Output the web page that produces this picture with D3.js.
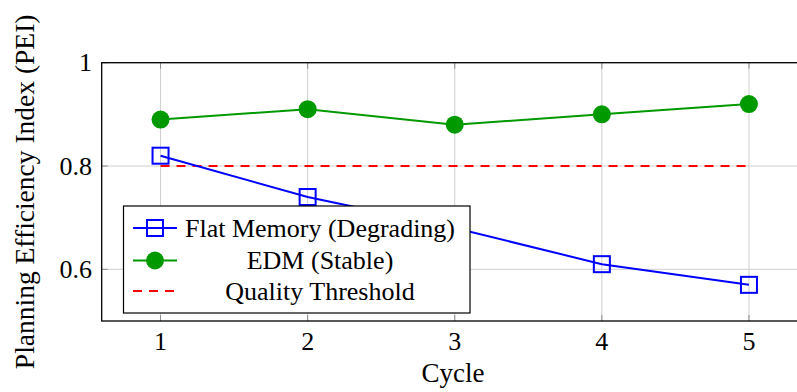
<!DOCTYPE html>
<html lang="en">
<head>
<meta charset="utf-8">
<script src="https://d3js.org/d3.v7.min.js"></script>
<style>
  body { margin: 0; background: #fff; overflow: hidden; }
  svg { display: block; }
  text { font-family: "Liberation Serif", "Times New Roman", serif; fill: #000; }
</style>
</head>
<body>
<div id="container"></div>
<script>
var cycles = [1, 2, 3, 4, 5];
var flatMemory = [0.82, 0.74, 0.68, 0.61, 0.57];
var edmStable = [0.89, 0.91, 0.88, 0.90, 0.92];
var threshold = 0.8;
var xTicks = [1, 2, 3, 4, 5];
var yTicks = [0.6, 0.8, 1];
var seriesNames = ["Flat Memory (Degrading)", "EDM (Stable)", "Quality Threshold"];

var W = 797, H = 392;
var fontSize = 26;

var svg = d3.select("#container").append("svg")
    .attr("width", W).attr("height", H);

// pgfplots-like axis: x enlarged by 0.1 on each side
var x = d3.scaleLinear().domain([0.6, 5.4]).range([101.7, 807.8]);
var y = d3.scaleLinear().domain([0.5, 1]).range([321, 62.7]);

var x0 = x.range()[0], x1 = x.range()[1], y0 = y.range()[0], y1 = y.range()[1];

// grid
svg.append("g").selectAll("line").data(xTicks).enter().append("line")
    .attr("x1", function(d) { return x(d); }).attr("x2", function(d) { return x(d); })
    .attr("y1", y0).attr("y2", y1)
    .attr("stroke", "#cfcfcf").attr("stroke-width", 1);
svg.append("g").selectAll("line").data(yTicks).enter().append("line")
    .attr("x1", x0).attr("x2", x1)
    .attr("y1", function(d) { return y(d); }).attr("y2", function(d) { return y(d); })
    .attr("stroke", "#cfcfcf").attr("stroke-width", 1);

// inner tick marks
var tk = 6;
var tg = svg.append("g").attr("stroke", "#8c8c8c").attr("stroke-width", 1);
xTicks.forEach(function(d) {
    tg.append("line").attr("x1", x(d)).attr("x2", x(d)).attr("y1", y0).attr("y2", y0 - tk);
    tg.append("line").attr("x1", x(d)).attr("x2", x(d)).attr("y1", y1).attr("y2", y1 + tk);
});
yTicks.forEach(function(d) {
    tg.append("line").attr("x1", x0).attr("x2", x0 + tk).attr("y1", y(d)).attr("y2", y(d));
    tg.append("line").attr("x1", x1).attr("x2", x1 - tk).attr("y1", y(d)).attr("y2", y(d));
});

// tick labels
svg.append("g").selectAll("text").data(xTicks).enter().append("text")
    .attr("x", function(d) { return x(d); }).attr("y", 350)
    .attr("text-anchor", "middle").attr("font-size", fontSize)
    .text(function(d) { return d; });
svg.append("g").selectAll("text").data(yTicks).enter().append("text")
    .attr("x", 92).attr("y", function(d) { return y(d); }).attr("dy", "0.33em")
    .attr("text-anchor", "end").attr("font-size", fontSize)
    .text(function(d) { return d === 1 ? "1" : d.toFixed(1); });

// axis labels
svg.append("text").attr("x", 453).attr("y", 382)
    .attr("text-anchor", "middle").attr("font-size", 27).text("Cycle");
svg.append("text")
    .attr("transform", "translate(34," + ((y0 + y1) / 2) + ") rotate(-90)")
    .attr("text-anchor", "middle").attr("font-size", 27.5)
    .text("Planning Efficiency Index (PEI)");

var line = d3.line().x(function(d) { return x(d[0]); }).y(function(d) { return y(d[1]); });

// threshold
svg.append("path")
    .datum([[cycles[0], threshold], [cycles[cycles.length - 1], threshold]])
    .attr("d", line).attr("fill", "none")
    .attr("stroke", "#ff0000").attr("stroke-width", 2).attr("stroke-dasharray", "9,7");

// flat memory
var flatData = cycles.map(function(c, i) { return [c, flatMemory[i]]; });
svg.append("path").datum(flatData).attr("d", line)
    .attr("fill", "none").attr("stroke", "#0000ff").attr("stroke-width", 2);
svg.append("g").selectAll("rect").data(flatData).enter().append("rect")
    .attr("x", function(d) { return x(d[0]) - 8; }).attr("y", function(d) { return y(d[1]) - 8; })
    .attr("width", 16).attr("height", 16)
    .attr("fill", "none").attr("stroke", "#0000ff").attr("stroke-width", 2);

// EDM
var edmData = cycles.map(function(c, i) { return [c, edmStable[i]]; });
svg.append("path").datum(edmData).attr("d", line)
    .attr("fill", "none").attr("stroke", "#009900").attr("stroke-width", 2);
svg.append("g").selectAll("circle").data(edmData).enter().append("circle")
    .attr("cx", function(d) { return x(d[0]); }).attr("cy", function(d) { return y(d[1]); })
    .attr("r", 9).attr("fill", "#009900");

// frame (right side falls outside the window)
svg.append("rect").attr("x", x0).attr("y", y1)
    .attr("width", x1 - x0).attr("height", y0 - y1)
    .attr("fill", "none").attr("stroke", "#000").attr("stroke-width", 1.3);

// legend
var lg = svg.append("g");
lg.append("rect").attr("x", 123.5).attr("y", 206).attr("width", 346.5).attr("height", 107)
    .attr("fill", "#fff").attr("stroke", "#000").attr("stroke-width", 1.2);
var rows = [228, 260.5, 291];
var lx0 = 133, lx1 = 177, lxm = 155, ltx = 320;
// row 1
lg.append("line").attr("x1", lx0).attr("x2", lx1).attr("y1", rows[0]).attr("y2", rows[0])
    .attr("stroke", "#0000ff").attr("stroke-width", 2);
lg.append("rect").attr("x", lxm - 8).attr("y", rows[0] - 8).attr("width", 16).attr("height", 16)
    .attr("fill", "none").attr("stroke", "#0000ff").attr("stroke-width", 2);
// row 2
lg.append("line").attr("x1", lx0).attr("x2", lx1).attr("y1", rows[1]).attr("y2", rows[1])
    .attr("stroke", "#009900").attr("stroke-width", 2);
lg.append("circle").attr("cx", lxm).attr("cy", rows[1]).attr("r", 9).attr("fill", "#009900");
// row 3
lg.append("line").attr("x1", lx0).attr("x2", lx1).attr("y1", rows[2]).attr("y2", rows[2])
    .attr("stroke", "#ff0000").attr("stroke-width", 2).attr("stroke-dasharray", "9,7");
seriesNames.forEach(function(n, i) {
    lg.append("text").attr("x", ltx).attr("y", rows[i]).attr("dy", "0.33em")
        .attr("text-anchor", "middle").attr("font-size", fontSize).text(n);
});
</script>
</body>
</html>
